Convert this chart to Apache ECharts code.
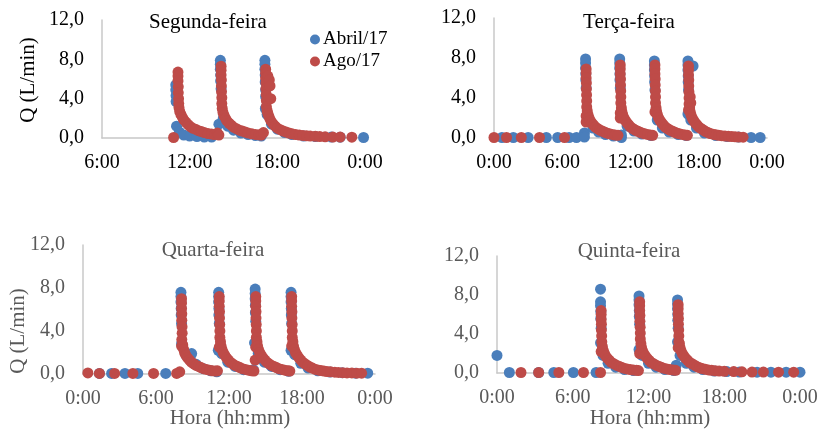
<!DOCTYPE html>
<html>
	<head>
		<meta charset="utf-8">
		<title>Vazão por dia</title>
		<script src="https://cdn.jsdelivr.net/npm/echarts@6/dist/echarts.min.js"></script>
		<style>
			body { margin: 0; background: #fff; }
		</style>
	</head>
	<body>
		<div id="box" style="width: 824px;height: 429px;"></div>
		<script>
			// [hora, Q (L/min)]
			var dias = ['Segunda-feira', 'Terça-feira', 'Quarta-feira', 'Quinta-feira']
			var nomes = ['Abril/17', 'Ago/17']
			var yTicks = [0, 4, 8, 12]
			var xTicks = [0, 6, 12, 18, 24]

			// Segunda-feira
			var segAbr = [
				[11.05,5.4],[11.05,4.9],[11.07,4.3],[11.07,3.7],[11.1,1.2],[11.3,0.6],[11.6,0.3],[12.0,0.2],[12.5,0.15],[13.0,0.1],[13.5,0.1],
				[14.0,1.4],[14.1,7.9],[14.1,7.5],[14.1,7.0],[14.12,6.4],[14.12,5.8],[14.15,5.0],[14.3,2.0],[14.6,1.2],[15.0,0.8],[15.5,0.5],[16.0,0.35],[16.5,0.25],[16.9,0.2],
				[17.15,7.9],[17.15,7.5],[17.15,7.0],[17.17,6.4],[17.17,5.7],[17.2,4.9],[17.2,4.2],[17.18,3.0],[17.3,2.4],[17.6,1.4],[18.0,0.9],[18.5,0.55],[19.0,0.35],[19.8,0.2],[20.6,0.15],[21.7,0.1],[22.3,0.08],[23.9,0.05]
			]
			var segAgo = [
				[10.9,0.05],
				[11.2,6.7],[11.2,6.3],[11.2,5.8],[11.22,5.2],[11.22,4.6],[11.24,4.0],[11.25,3.5],
				[11.27,3.1],[11.32,2.7],[11.4,2.4],[11.5,2.1],[11.6,1.85],[11.75,1.6],[11.9,1.35],[12.05,1.15],[12.2,1.0],[12.4,0.9],[12.6,0.75],[12.8,0.65],[13.0,0.55],[13.25,0.45],[13.5,0.4],[13.7,0.35],[13.9,0.5],[14.0,0.3],
				[14.15,7.3],[14.15,6.9],[14.15,6.4],[14.17,5.9],[14.17,5.3],[14.18,4.7],[14.2,4.1],[14.2,3.5],
				[14.23,3.0],[14.28,2.6],[14.35,2.3],[14.45,2.0],[14.55,1.75],[14.7,1.5],[14.85,1.3],[15.0,1.1],[15.2,0.95],[15.4,0.8],[15.6,0.7],[15.8,0.6],[16.0,0.5],[16.25,0.42],[16.5,0.36],[16.75,0.32],[16.9,0.3],[17.05,0.55],
				[17.2,7.0],[17.2,6.6],[17.2,6.1],[17.22,5.6],[17.22,5.0],[17.24,4.4],[17.25,3.8],[17.25,3.2],[17.35,6.3],[17.45,5.9],[17.5,5.3],[17.55,4.0],
				[17.3,2.8],[17.35,2.5],[17.42,2.2],[17.5,1.9],[17.6,1.65],[17.72,1.4],[17.85,1.2],[18.0,1.0],[18.2,0.85],[18.4,0.7],[18.6,0.6],[18.8,0.5],[19.0,0.42],[19.25,0.35],[19.5,0.3],[19.75,0.26],[20.0,0.22],[20.25,0.2],[20.6,0.17],[20.9,0.15],[21.27,0.12],[21.8,0.1],[22.3,0.1],[23.1,0.08]
			]

			// Terça-feira
			var terAbr = [
				[0.7,0.05],[1.7,0.05],[3.0,0.05],[4.6,0.05],[5.6,0.05],[6.6,0.05],[7.25,0.05],[7.95,0.5],[7.95,0.1],
				[8.05,7.9],[8.05,7.5],[8.05,7.0],[8.07,6.4],[8.07,5.8],[8.1,5.0],[8.3,1.8],[8.7,1.0],[9.2,0.6],[9.8,0.35],[10.5,0.2],[11.2,0.05],[11.2,0.3],
				[11.05,7.9],[11.05,7.5],[11.05,7.0],[11.07,6.4],[11.07,5.8],[11.1,5.0],[11.3,2.0],[11.7,1.2],[12.3,0.7],[13.0,0.4],[13.8,0.25],
				[14.1,7.7],[14.1,7.3],[14.1,6.8],[14.12,6.2],[14.12,5.6],[14.15,4.8],[14.35,1.8],[14.8,1.0],[15.4,0.6],[16.2,0.35],[16.9,0.25],
				[17.05,7.7],[17.05,7.3],[17.05,6.8],[17.07,6.2],[17.07,5.6],[17.1,4.8],[17.05,2.4],[17.5,7.2],[17.3,1.8],[17.8,1.0],[18.5,0.5],[19.5,0.25],[20.5,0.15],[21.5,0.1],[22.6,0.05],[23.4,0.05]
			]
			var terAgo = [
				[0.0,0.05],[1.1,0.05],[2.4,0.05],[4.0,0.05],[6.2,0.05],
				[8.1,6.9],[8.1,6.5],[8.1,6.0],[8.12,5.5],[8.12,4.9],[8.14,4.3],[8.15,3.7],[8.15,3.1],[8.1,2.2],[8.1,1.6],
				[8.2,2.7],[8.27,2.3],[8.35,2.0],[8.45,1.75],[8.6,1.5],[8.75,1.3],[8.9,1.1],[9.1,0.95],[9.3,0.8],[9.5,0.7],[9.7,0.6],[9.9,0.5],[10.15,0.42],[10.4,0.36],[10.65,0.3],[10.9,0.27],
				[11.1,7.3],[11.1,6.9],[11.1,6.4],[11.12,5.9],[11.12,5.3],[11.14,4.7],[11.15,4.1],[11.15,3.5],[11.1,2.5],[11.1,2.0],
				[11.2,3.0],[11.25,2.6],[11.32,2.3],[11.42,2.0],[11.55,1.75],[11.7,1.5],[11.85,1.3],[12.0,1.1],[12.2,0.95],[12.4,0.8],[12.6,0.7],[12.8,0.6],[13.0,0.5],[13.25,0.42],[13.5,0.36],[13.75,0.3],[13.95,0.27],
				[14.15,7.3],[14.15,6.9],[14.15,6.4],[14.17,5.9],[14.17,5.3],[14.19,4.7],[14.2,4.1],[14.2,3.5],[14.15,2.6],
				[14.25,3.0],[14.3,2.6],[14.37,2.3],[14.47,2.0],[14.6,1.75],[14.75,1.5],[14.9,1.3],[15.05,1.1],[15.25,0.95],[15.45,0.8],[15.65,0.7],[15.85,0.6],[16.05,0.5],[16.3,0.42],[16.55,0.36],[16.8,0.3],[17.0,0.27],
				[17.1,7.2],[17.1,6.8],[17.1,6.3],[17.12,5.8],[17.12,5.2],[17.14,4.6],[17.15,4.0],[17.15,3.4],[17.1,2.8],[17.25,4.1],[17.3,3.5],
				[17.2,3.0],[17.25,2.6],[17.32,2.3],[17.42,2.0],[17.55,1.75],[17.7,1.5],[17.85,1.3],[18.0,1.1],[18.2,0.95],[18.4,0.8],[18.6,0.65],[18.8,0.55],[19.0,0.45],[19.25,0.38],[19.5,0.32],[19.75,0.27],[20.0,0.23],[20.3,0.2],[20.6,0.17],[20.9,0.15],[21.2,0.12],[21.5,0.1],[21.9,0.08]
			]

			// Quarta-feira
			var quaAbr = [
				[1.35,0.05],[2.35,0.05],[3.45,0.05],[4.5,0.05],[6.8,0.05],
				[8.05,7.6],[8.05,7.2],[8.05,6.7],[8.07,6.1],[8.07,5.5],[8.1,4.7],[8.1,2.8],[8.5,1.7],[8.8,1.5],[8.93,1.9],[9.3,0.9],[9.9,0.5],[10.5,0.3],[11.0,0.2],
				[11.15,7.6],[11.15,7.2],[11.15,6.7],[11.17,6.1],[11.17,5.5],[11.2,4.7],[11.12,2.2],[11.4,1.9],[11.9,1.1],[12.5,0.7],[13.2,0.4],[14.0,0.4],
				[14.15,7.9],[14.15,7.5],[14.15,7.0],[14.17,6.4],[14.17,5.7],[14.2,4.9],[14.1,2.9],[14.4,1.9],[14.9,1.1],[15.5,0.7],[16.2,0.4],[16.9,0.25],
				[17.1,7.6],[17.1,7.2],[17.1,6.7],[17.12,6.1],[17.12,5.5],[17.15,4.7],[17.1,2.2],[17.4,1.8],[17.9,1.0],[18.5,0.55],[19.3,0.3],[20.3,0.18],[21.3,0.12],[22.4,0.08],[23.4,0.08]
			]
			var quaAgo = [
				[0.4,0.1],[1.35,0.05],[2.6,0.05],[4.1,0.05],[5.8,0.05],[7.7,0.05],[7.95,0.2],
				[8.1,7.0],[8.1,6.6],[8.1,6.1],[8.12,5.6],[8.12,5.0],[8.14,4.4],[8.15,3.8],[8.12,3.2],[8.1,2.6],
				[8.2,2.7],[8.27,2.3],[8.35,2.0],[8.45,1.75],[8.6,1.5],[8.75,1.3],[8.9,1.1],[9.1,0.95],[9.3,0.8],[9.5,0.7],[9.7,0.6],[9.9,0.5],[10.15,0.42],[10.4,0.36],[10.65,0.3],[10.9,0.27],[11.05,0.3],
				[11.2,7.2],[11.2,6.8],[11.2,6.3],[11.22,5.8],[11.22,5.2],[11.24,4.6],[11.25,4.0],[11.25,3.4],[11.2,2.5],
				[11.3,3.0],[11.35,2.6],[11.42,2.3],[11.52,2.0],[11.65,1.75],[11.8,1.5],[11.95,1.3],[12.1,1.1],[12.3,0.95],[12.5,0.8],[12.7,0.7],[12.9,0.6],[13.1,0.5],[13.35,0.42],[13.6,0.36],[13.85,0.3],[14.05,0.27],
				[14.2,7.2],[14.2,6.8],[14.2,6.3],[14.22,5.8],[14.22,5.2],[14.24,4.6],[14.25,4.0],[14.25,3.4],[14.2,2.5],[14.15,1.3],
				[14.3,3.0],[14.35,2.6],[14.42,2.3],[14.52,2.0],[14.65,1.75],[14.8,1.5],[14.95,1.3],[15.1,1.1],[15.3,0.95],[15.5,0.8],[15.7,0.7],[15.9,0.6],[16.1,0.5],[16.35,0.42],[16.6,0.36],[16.85,0.3],[17.0,0.27],
				[17.15,7.2],[17.15,6.8],[17.15,6.3],[17.17,5.8],[17.17,5.2],[17.19,4.6],[17.2,4.0],[17.2,3.4],[17.15,2.6],
				[17.25,3.0],[17.3,2.6],[17.37,2.3],[17.47,2.0],[17.6,1.75],[17.75,1.5],[17.9,1.3],[18.05,1.1],[18.25,0.95],[18.45,0.8],[18.65,0.65],[18.85,0.55],[19.05,0.45],[19.3,0.38],[19.55,0.32],[19.8,0.27],[20.05,0.23],[20.35,0.2],[20.7,0.17],[21.0,0.15],[21.35,0.12],[21.7,0.1],[22.1,0.1],[22.5,0.08],[22.9,0.08]
			]

			// Quinta-feira
			var quiAbr = [
				[0.0,1.8],[0.98,0.05],[3.3,0.05],[4.5,0.05],[6.05,0.05],[7.85,0.05],
				[8.2,8.6],[8.2,7.3],[8.2,6.9],[8.22,6.3],[8.22,5.6],[8.25,4.6],[8.2,3.1],[8.4,1.8],[8.8,1.0],[9.4,0.6],[10.1,0.35],[10.8,0.25],
				[11.25,7.9],[11.25,7.5],[11.25,7.0],[11.27,6.4],[11.27,5.8],[11.3,5.0],[11.25,2.4],[11.5,1.8],[12.0,1.0],[12.6,0.6],[13.3,0.35],[14.0,0.25],
				[14.2,0.8],[14.3,7.5],[14.3,7.1],[14.3,6.6],[14.32,6.0],[14.32,5.4],[14.35,4.6],[14.3,3.2],[14.5,1.8],[15.0,1.0],[15.6,0.6],[16.3,0.35],[17.2,0.2],[18.2,0.15],[19.2,0.1],[20.6,0.08],[21.7,0.08],[22.9,0.08],[24.0,0.08]
			]
			var quiAgo = [
				[1.9,0.05],[3.3,0.05],[4.9,0.05],[6.85,0.05],[8.2,0.05],
				[8.25,6.4],[8.25,6.0],[8.25,5.5],[8.27,5.0],[8.27,4.4],[8.29,3.8],[8.3,3.2],[8.25,2.2],
				[8.35,2.7],[8.42,2.3],[8.5,2.0],[8.6,1.75],[8.75,1.5],[8.9,1.3],[9.05,1.1],[9.25,0.95],[9.45,0.8],[9.65,0.7],[9.85,0.6],[10.05,0.5],[10.3,0.42],[10.55,0.36],[10.8,0.3],[11.05,0.27],[11.2,0.25],
				[11.3,7.3],[11.3,6.9],[11.3,6.4],[11.32,5.9],[11.32,5.3],[11.34,4.7],[11.35,4.1],[11.35,3.5],[11.3,2.0],
				[11.4,3.0],[11.45,2.6],[11.52,2.3],[11.62,2.0],[11.75,1.75],[11.9,1.5],[12.05,1.3],[12.2,1.1],[12.4,0.95],[12.6,0.8],[12.8,0.7],[13.0,0.6],[13.2,0.5],[13.45,0.42],[13.7,0.36],[13.95,0.3],[14.15,0.27],
				[14.35,7.0],[14.35,6.6],[14.35,6.1],[14.37,5.6],[14.37,5.0],[14.39,4.4],[14.4,3.8],[14.4,3.2],[14.35,2.6],
				[14.45,3.0],[14.5,2.6],[14.57,2.3],[14.67,2.0],[14.8,1.75],[14.95,1.5],[15.1,1.3],[15.25,1.1],[15.45,0.95],[15.65,0.8],[15.85,0.65],[16.05,0.55],[16.25,0.45],[16.5,0.38],[16.75,0.32],[17.0,0.27],[17.3,0.23],[17.6,0.2],[18.0,0.17],[18.75,0.15],[19.4,0.12],[20.2,0.1],[21.1,0.1],[22.3,0.08],[23.5,0.08]
			]

			var azul = '#4a7ebb'
			var vermelho = '#be4b48'
			var fonte = '"Liberation Serif", "Times New Roman", serif'

			// grades (posição em px)
			var grades = [
				{left: 102, top: 20, width: 263, height: 118},
				{left: 494, top: 18, width: 273, height: 120},
				{left: 83, top: 245, width: 292, height: 129},
				{left: 497, top: 256, width: 303, height: 117}
			]
			var xMin = [6, 0, 0, 0]
			var corTexto = ['#000', '#000', '#595959', '#595959']
			var dados = [[segAbr, segAgo], [terAbr, terAgo], [quaAbr, quaAgo], [quiAbr, quiAgo]]

			var xAxis = [], yAxis = [], series = []
			for (var i = 0; i < 4; i++) {
				xAxis.push({
					type: 'value', gridIndex: i, min: xMin[i], max: xTicks[xTicks.length - 1], interval: 6,
					axisLine: {lineStyle: {color: '#c8c8c8', width: 1.5}},
					axisTick: {show: false},
					splitLine: {show: false},
					axisLabel: {
						color: corTexto[i], fontFamily: fonte, fontSize: 20, margin: 15,
						formatter: function (v) { return (v % 24) + ':00' }
					}
				})
				yAxis.push({
					type: 'value', gridIndex: i, min: yTicks[0], max: yTicks[yTicks.length - 1], interval: 4,
					axisLine: {show: true, lineStyle: {color: '#c8c8c8', width: 1.5}},
					axisTick: {show: false},
					splitLine: {show: false},
					axisLabel: {
						color: corTexto[i], fontFamily: fonte, fontSize: 20, margin: 18,
						formatter: function (v) { return v.toFixed(1).replace('.', ',') }
					}
				})
				for (var s = 0; s < 2; s++) {
					series.push({
						type: 'scatter',
						name: nomes[s],
						xAxisIndex: i,
						yAxisIndex: i,
						symbolSize: 11,
						itemStyle: {color: s == 0 ? azul : vermelho, opacity: 1},
						data: dados[i][s]
					})
				}
			}

			var titulos = [[208, 22], [629, 22], [213, 250], [629, 251]]
			var graphic = []
			for (var t = 0; t < 4; t++) {
				graphic.push({
					type: 'text', x: titulos[t][0], y: titulos[t][1],
					style: {text: dias[t], font: '21px ' + fonte, fill: corTexto[t], textAlign: 'center', textVerticalAlign: 'middle'}
				})
			}
			// Q (L/min)
			graphic.push({
				type: 'text', x: 28, y: 80, rotation: Math.PI / 2,
				style: {text: 'Q (L/min)', font: '21px ' + fonte, fill: '#000', textAlign: 'center', textVerticalAlign: 'middle'}
			})
			graphic.push({
				type: 'text', x: 18, y: 331, rotation: Math.PI / 2,
				style: {text: 'Q (L/min)', font: '21px ' + fonte, fill: '#595959', textAlign: 'center', textVerticalAlign: 'middle'}
			})
			// Hora (hh:mm)
			graphic.push({
				type: 'text', x: 230, y: 418,
				style: {text: 'Hora (hh:mm)', font: '21px ' + fonte, fill: '#595959', textAlign: 'center', textVerticalAlign: 'middle'}
			})
			graphic.push({
				type: 'text', x: 650, y: 418,
				style: {text: 'Hora (hh:mm)', font: '21px ' + fonte, fill: '#595959', textAlign: 'center', textVerticalAlign: 'middle'}
			})

			var mCharts = echarts.init(document.querySelector('#box'))
			var option = {
				animation: false,
				backgroundColor: '#fff',
				legend: {
					data: nomes,
					orient: 'vertical',
					left: 305,
					top: 25,
					itemWidth: 10,
					itemHeight: 10,
					itemGap: 3,
					icon: 'circle',
					textStyle: {fontFamily: fonte, fontSize: 19, color: '#000', padding: [0, 0, 0, -2]}
				},
				grid: grades,
				xAxis: xAxis,
				yAxis: yAxis,
				graphic: graphic,
				series: series
			}
			mCharts.setOption(option)
		</script>
	</body>
</html>
